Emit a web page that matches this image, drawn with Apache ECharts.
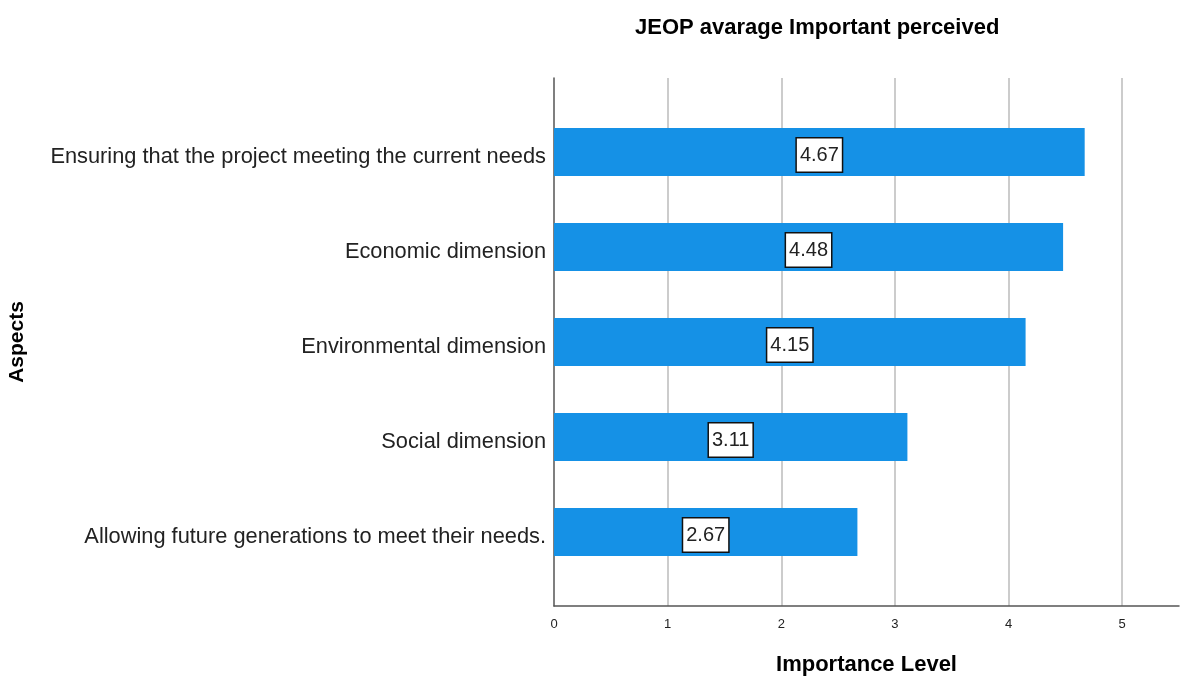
<!DOCTYPE html>
<html>
<head>
<meta charset="utf-8">
<script src="https://cdn.jsdelivr.net/npm/echarts@6/dist/echarts.min.js"></script>
<style>
  html, body { margin: 0; padding: 0; background: #ffffff; }
  #chart { width: 1184px; height: 677px; }
</style>
</head>
<body>
<div id="chart"></div>
<script>
// Aspects, listed top to bottom
const aspects = [
  'Ensuring that the project meeting the current needs',
  'Economic dimension',
  'Environmental dimension',
  'Social dimension',
  'Allowing future generations to meet their needs.'
];
// Average perceived importance for each aspect
const importance = [4.67, 4.48, 4.15, 3.11, 2.67];
// Importance scale
const scaleMin = 0;
const scaleMax = 5.5;
const scaleStep = 1;

const FONT = '"Liberation Sans", Arial, sans-serif';

const chart = echarts.init(document.getElementById('chart'), null, { renderer: 'canvas' });

chart.setOption({
  backgroundColor: '#ffffff',
  animation: false,
  title: {
    text: 'JEOP avarage Important perceived',
    left: 630,
    top: 12,
    textStyle: { fontFamily: FONT, fontSize: 22, fontWeight: 'bold', color: '#000000' }
  },
  grid: [
    // bars
    { left: 554, right: 5, top: 104.5, bottom: 97.5, containLabel: false, outerBoundsMode: 'none' },
    // frame: axes and grid lines
    { left: 554, right: 5, top: 78, bottom: 71, containLabel: false, outerBoundsMode: 'none' }
  ],
  xAxis: [
    { type: 'value', gridIndex: 0, min: scaleMin, max: scaleMax, show: false },
    {
      type: 'value', gridIndex: 1, min: scaleMin, max: scaleMax, interval: scaleStep,
      name: 'Importance Level',
      nameLocation: 'middle',
      nameGap: 48,
      nameTextStyle: { fontFamily: FONT, fontSize: 22, fontWeight: 'bold', color: '#000000' },
      axisLine: { show: true, lineStyle: { color: '#555555', width: 1.5 } },
      axisTick: { show: false },
      axisLabel: {
        fontFamily: FONT, fontSize: 13, color: '#222222', margin: 12,
        showMaxLabel: false
      },
      splitLine: {
        show: true, showMinLine: false, showMaxLine: false,
        lineStyle: { color: '#cccccc', width: 2 }
      }
    }
  ],
  yAxis: [
    {
      type: 'category', gridIndex: 0, data: aspects, inverse: true,
      axisLine: { show: false },
      axisTick: { show: false },
      axisLabel: {
        margin: 8,
        formatter: (v) => '{c|' + v + '}',
        rich: {
          c: {
            fontFamily: FONT, fontSize: 21.8, color: '#222222',
            padding: [9, 0, 0, 0]
          }
        }
      }
    },
    {
      type: 'value', gridIndex: 1, min: 0, max: 1,
      name: 'Aspects',
      nameLocation: 'middle',
      nameRotate: 90,
      nameGap: 526,
      nameTextStyle: { fontFamily: FONT, fontSize: 21, fontWeight: 'bold', color: '#000000' },
      axisLine: { show: true, lineStyle: { color: '#555555', width: 1.5 } },
      axisTick: { show: false },
      axisLabel: { show: false },
      splitLine: { show: false }
    }
  ],
  series: [
    {
      type: 'bar',
      xAxisIndex: 0,
      yAxisIndex: 0,
      data: importance,
      barWidth: 48,
      itemStyle: { color: '#1591e6' },
      label: {
        show: true,
        position: 'inside',
        offset: [0, 3],
        formatter: (p) => p.value.toFixed(2),
        fontFamily: FONT,
        fontSize: 20,
        color: '#222222',
        backgroundColor: '#ffffff',
        borderColor: '#111111',
        borderWidth: 1.5,
        padding: [7, 3, 6, 3]
      }
    }
  ]
});
</script>
</body>
</html>
